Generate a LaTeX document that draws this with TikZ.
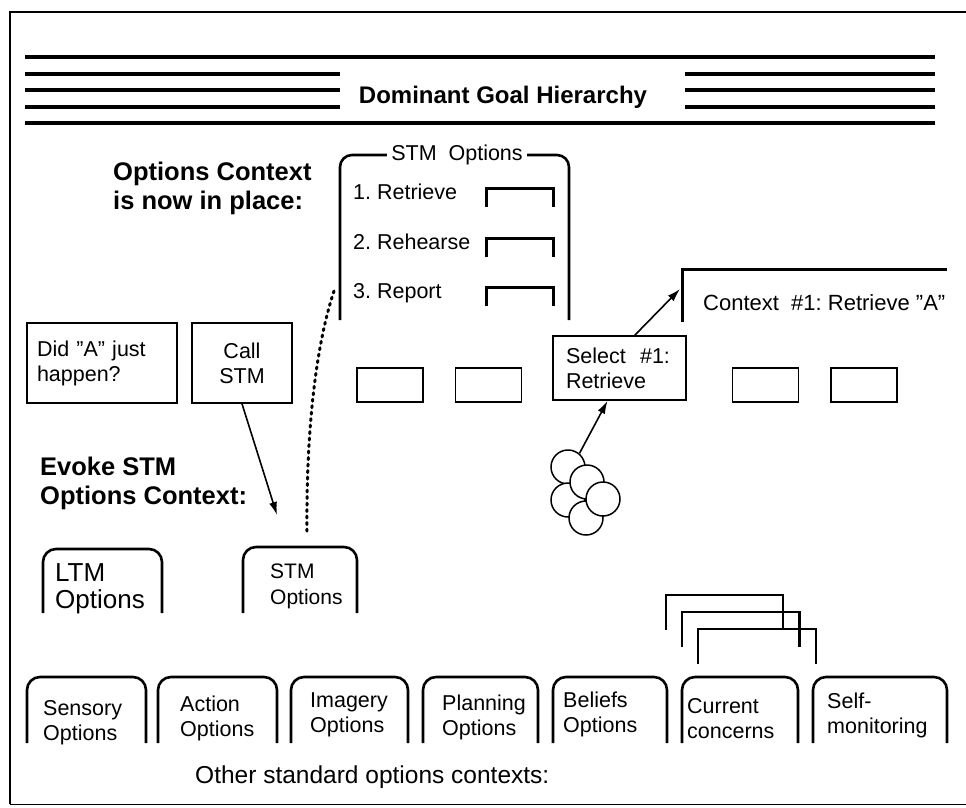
\documentclass[tikz,border=0pt]{standalone}
\usepackage{fontspec}
\setmainfont{Liberation Sans}
\usetikzlibrary{arrows.meta}
\frenchspacing
\newcommand{\qq}{\symbol{34}}
\tikzset{
  lbl/.style={font=\fontsize{21.5}{25}\selectfont, align=left, inner sep=0pt},
  hdlbl/.style={font=\bfseries\fontsize{25.5}{29}\selectfont, align=left, inner sep=0pt},
  optbox/.style={draw, line width=1.6pt, font=\fontsize{21.5}{25}\selectfont, align=left},
  blankbox/.style={draw, line width=1.5pt, minimum width=66pt, minimum height=34pt, inner sep=0pt},
  tabline/.style={line width=2.6pt, rounded corners=13pt},
  barline/.style={line width=3.2pt},
  arr/.style={line width=1.6pt, -{Latex[length=13pt,width=8pt]}},
  dots/.style={line width=3pt, line cap=round, dash pattern=on 2pt off 4.5pt},
  bubble/.style={circle, draw, fill=white, line width=1.5pt, minimum size=34pt, inner sep=0pt},
}

\begin{document}
\begin{tikzpicture}[x=1pt, y=-1pt]
	\useasboundingbox (0,0) rectangle (966,807);

	% frame
	\draw[line width=1.6pt] (966,12) -- (10,12) -- (10,804);
	\draw[line width=1pt] (10,804) -- (966,804);

	% Goal hierarchy header
	\foreach \y in {57,123} {
		\draw[barline] (25,\y) -- (935,\y);
	}
	\foreach \y in {74,90,107} {
		\draw[barline] (25,\y) -- (340,\y);
		\draw[barline] (685,\y) -- (935,\y);
	}
	\node[font=\bfseries\fontsize{24}{24}\selectfont] (goal) at (503,97) {Dominant Goal Hierarchy};

	% STM options context
	\draw[line width=2.6pt, rounded corners=12pt] (340,320) -- (340,155) -- (569,155) -- (569,320);
	\node[lbl, fill=white, inner xsep=4pt, inner ysep=2pt] (stmhead) at (457,155) {STM\ \ Options};
	\node[lbl, anchor=west] (opt1) at (353,192) {1. Retrieve};
	\node[lbl, anchor=west] (opt2) at (353,242) {2. Rehearse};
	\node[lbl, anchor=west] (opt3) at (353,293) {3. Report};
	\foreach \y in {188,238,287} {
		\draw[line width=3pt] (486,\y+19) -- (486,\y) -- (553,\y) -- (553,\y+19);
	}
	\coordinate (stmleg) at (334,291);

	\node[hdlbl, anchor=west] (inplace) at (113,188) {Options Context\\is now in place:};

	% current row
	\node[optbox, minimum width=150pt, minimum height=80pt, text width=130pt, inner xsep=10pt] (did) at (102,363) {Did \qq A\qq\ just\\happen?};
	\node[optbox, minimum width=100pt, minimum height=80pt, align=center] (call) at (242,363) {Call\\STM};
	\node[optbox, minimum width=133pt, minimum height=64pt, text width=107pt, inner xsep=13pt] (select) at (619.5,368) {Select\ \ \#1:\\Retrieve};
	\foreach \x [count=\i] in {390,488.5,765.5,864} {
		\node[blankbox] (blank\i) at (\x,385) {};
	}

	% new context
	\draw[line width=3pt] (682,322) -- (682,269) -- (947,269);
	\coordinate (ctxhit) at (680,289);
	\node[lbl, font=\fontsize{22}{25}\selectfont, anchor=west] (ctx) at (703,303) {Context\ \ \#1: Retrieve \qq A\qq};

	% bubbles
	\node[bubble] (c1) at (568,467) {};
	\node[bubble] (c3) at (568,500) {};
	\node[bubble] (c5) at (586,518) {};
	\node[bubble] (c2) at (587,482) {};
	\node[bubble] (c4) at (603,499) {};

	\node[hdlbl, anchor=west] (evoke) at (40,483) {Evoke STM\\Options Context:};

	% LTM / STM tabs
	\draw[tabline] (43,613) -- (43,549) -- (162,549) -- (162,613);
	\node[lbl, font=\fontsize{26}{27}\selectfont, anchor=west] (ltm) at (55,589) {LTM\\Options};
	\draw[tabline] (243,613) -- (243,547) -- (357,547) -- (357,613);
	\node[lbl, font=\fontsize{21}{26}\selectfont, anchor=west] (stm) at (270,586) {STM\\Options};
	\coordinate (callhit) at (277,515);
	\coordinate (dotend) at (307,532);

	% arrows
	\draw[arr] (call.south) -- (callhit);
	\draw[arr] (select.65) -- (ctxhit);
	\draw[arr] (c1.50) -- (select.250);
	\draw[dots] (stmleg) .. controls (316,345) and (306,430) .. (dotend);

	% stacked concerns
	\foreach \k in {0,1,2} {
		\draw[line width=2.2pt] (666+16*\k,630+17*\k) -- (666+16*\k,595+17*\k) -- (783+16.5*\k,595+17*\k) -- (783+16.5*\k,630+17*\k);
	}

	% standard options tabs
	\foreach \xa/\xb/\tx/\ty/\nm/\txt in {
		27/146/43/723/sens/{Sensory\\Options},
		158/277/180/718/act/{Action\\Options},
		291/408/310/715/imag/{Imagery\\Options},
		423/538/442/717/plan/{Planning\\Options},
		553/667/563/714/bel/{Beliefs\\Options},
		682/798/687/719/cur/{Current\\concerns},
		813/947/827/715/self/{Self-\\monitoring}} {
		\draw[tabline] (\xa,743) -- (\xa,677) -- (\xb,677) -- (\xb,743);
		\node[lbl, anchor=west] (\nm) at (\tx,\ty) {\txt};
	}
	\node[lbl, font=\fontsize{24.5}{26}\selectfont, anchor=west] (other) at (195,777) {Other standard options contexts:};

\end{tikzpicture}
\end{document}
